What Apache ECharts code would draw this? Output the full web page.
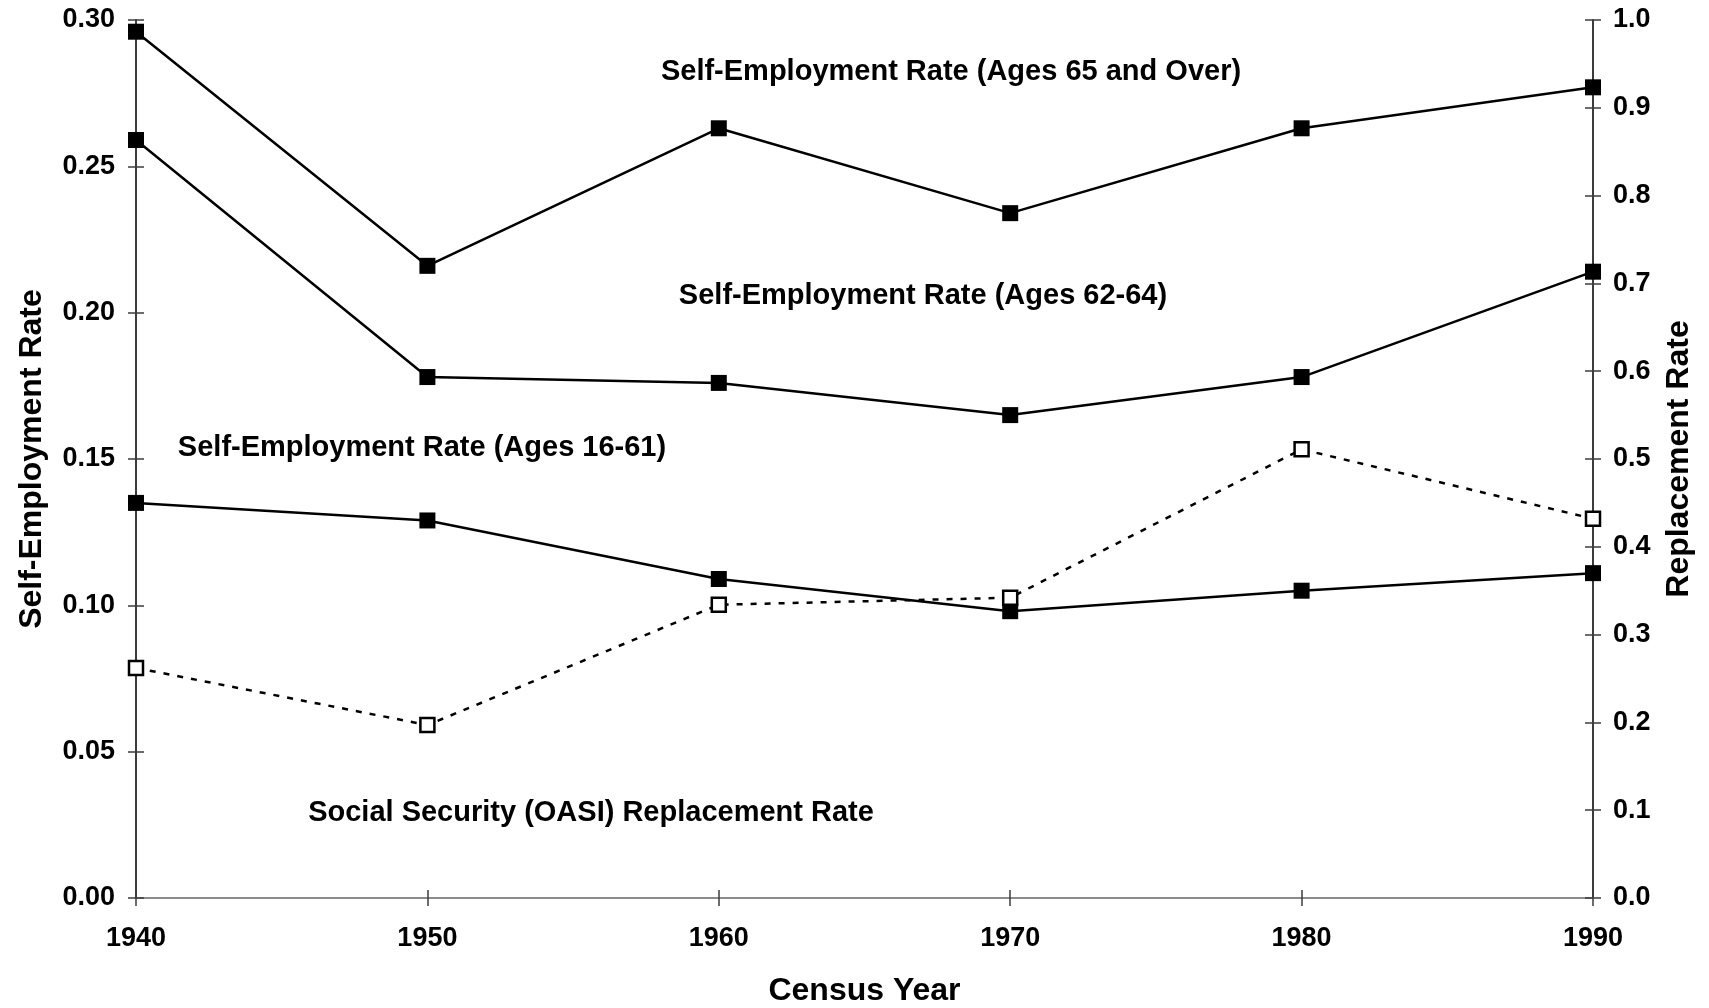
<!DOCTYPE html>
<html lang="en">
<head>
    <meta charset="UTF-8"/>
    <script src="https://cdn.jsdelivr.net/npm/echarts@6/dist/echarts.min.js"></script>
    <title>Self-Employment and Replacement Rate</title>
</head>
<body style="margin:0">
<div id="main" style="width:1709px; height:1008px;"></div>
<script type="text/javascript">
    // census years and rates
    var years = [1940, 1950, 1960, 1970, 1980, 1990];
    var rate65Over = [0.296, 0.216, 0.263, 0.234, 0.263, 0.277];
    var rate62to64 = [0.259, 0.178, 0.176, 0.165, 0.178, 0.214];
    var rate16to61 = [0.135, 0.129, 0.109, 0.098, 0.105, 0.111];
    var replacementRate = [0.262, 0.197, 0.334, 0.342, 0.511, 0.432];

    var FONT = '"Liberation Sans", Arial, sans-serif';

    function pairs(vals) {
        return years.map(function (y, i) { return [y, vals[i]]; });
    }

    var myChart = echarts.init(document.getElementById('main'));

    var labelStyle = { fontFamily: FONT, fontWeight: 'bold', fontSize: 27, color: '#000' };
    var titleStyle = { fontFamily: FONT, fontWeight: 'bold', fontSize: 32, color: '#000' };
    var axisLine = { show: true, lineStyle: { color: '#3c3c3c', width: 2 } };
    var tickStyle = { color: '#3c3c3c', width: 1.5 };

    function solid(name, vals) {
        return {
            name: name, type: 'line', xAxisIndex: 0, yAxisIndex: 0,
            data: pairs(vals),
            symbol: 'rect', symbolSize: 16,
            lineStyle: { color: '#000', width: 2.5 },
            itemStyle: { color: '#000', borderWidth: 0 },
            silent: true, z: 5
        };
    }

    function note(text, x, y) {
        return {
            type: 'text', x: x, y: y,
            style: {
                text: text, fontFamily: FONT, fontWeight: 'bold', fontSize: 29,
                fill: '#000', align: 'center', verticalAlign: 'middle'
            }
        };
    }

    option = {
        animation: false,
        backgroundColor: '#fff',
        grid: { left: 136, right: 116, top: 20, bottom: 110, outerBoundsMode: 'none' },
        xAxis: [
            {
                type: 'value', position: 'bottom', min: 1940, max: 1990, interval: 10,
                name: 'Census Year', nameLocation: 'middle', nameGap: 77,
                nameTextStyle: titleStyle,
                axisLine: axisLine,
                axisTick: { show: true, length: 8, lineStyle: tickStyle },
                axisLabel: Object.assign({ margin: 27, formatter: function (v) { return String(v); } }, labelStyle),
                splitLine: { show: false }
            },
            {
                type: 'value', position: 'bottom', min: 1940, max: 1990, interval: 10,
                axisLine: { show: false },
                axisTick: { show: true, inside: true, length: 8, lineStyle: tickStyle },
                axisLabel: { show: false }, splitLine: { show: false }
            },
            {
                type: 'value', position: 'top', min: 1940, max: 1990,
                axisLine: { show: true, lineStyle: { color: '#8c8c8c', width: 2 } },
                axisTick: { show: false }, axisLabel: { show: false }, splitLine: { show: false }
            }
        ],
        yAxis: [
            {
                type: 'value', position: 'left', min: 0, max: 0.3, interval: 0.05,
                name: 'Self-Employment Rate', nameLocation: 'middle', nameGap: 88,
                nameTextStyle: titleStyle,
                axisLine: axisLine,
                axisTick: { show: true, length: 8, lineStyle: tickStyle },
                axisLabel: Object.assign({ margin: 21, formatter: function (v) { return v.toFixed(2); } }, labelStyle),
                splitLine: { show: false }
            },
            {
                type: 'value', position: 'right', min: 0, max: 1, interval: 0.1,
                name: 'Replacement Rate', nameLocation: 'middle', nameGap: 70,
                nameTextStyle: titleStyle,
                axisLine: axisLine,
                axisTick: { show: true, length: 8, lineStyle: tickStyle },
                axisLabel: Object.assign({ margin: 20, formatter: function (v) { return v.toFixed(1); } }, labelStyle),
                splitLine: { show: false }
            },
            {
                type: 'value', position: 'left', min: 0, max: 0.3, interval: 0.05,
                axisLine: { show: false },
                axisTick: { show: true, inside: true, length: 8, lineStyle: tickStyle },
                axisLabel: { show: false }, splitLine: { show: false }
            },
            {
                type: 'value', position: 'right', min: 0, max: 1, interval: 0.1,
                axisLine: { show: false },
                axisTick: { show: true, inside: true, length: 8, lineStyle: tickStyle },
                axisLabel: { show: false }, splitLine: { show: false }
            }
        ],
        series: [
            solid('Self-Employment Rate (Ages 65 and Over)', rate65Over),
            solid('Self-Employment Rate (Ages 62-64)', rate62to64),
            solid('Self-Employment Rate (Ages 16-61)', rate16to61),
            {
                name: 'Social Security (OASI) Replacement Rate', type: 'line',
                xAxisIndex: 0, yAxisIndex: 1,
                data: pairs(replacementRate),
                symbol: 'rect', symbolSize: 14,
                lineStyle: { color: '#000', width: 2.5, type: [6, 8] },
                itemStyle: { color: '#fff', borderColor: '#000', borderWidth: 2.5 },
                silent: true, z: 6
            }
        ],
        graphic: [
            note('Self-Employment Rate (Ages 65 and Over)', 951, 72),
            note('Self-Employment Rate (Ages 62-64)', 923, 296),
            note('Self-Employment Rate (Ages 16-61)', 422, 448),
            note('Social Security (OASI) Replacement Rate', 591, 813)
        ]
    };

    myChart.setOption(option);
</script>
</body>
</html>
